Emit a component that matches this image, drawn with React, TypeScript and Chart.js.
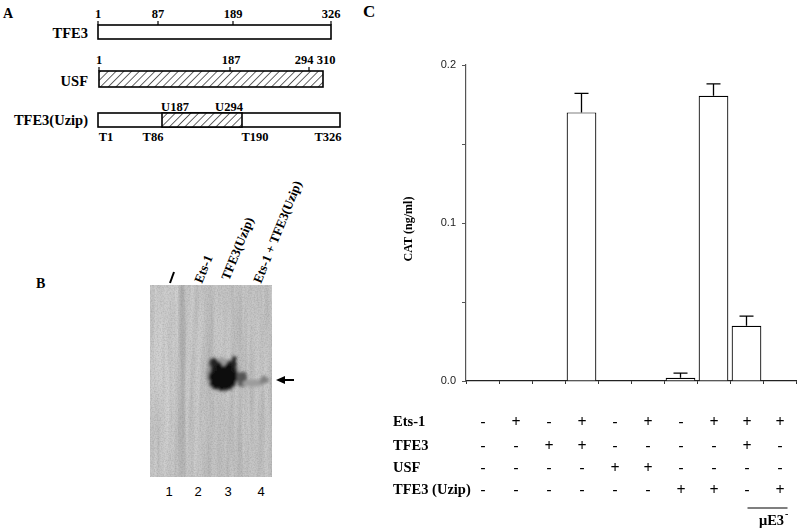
import React, { useEffect, useRef } from "react";
import { Chart, registerables } from "chart.js";
Chart.register(...registerables);

// ---- Panel C data ----
const conditions = ["1", "2", "3", "4", "5", "6", "7", "8", "9", "10"];
const catValues = [0, 0, 0, 0.17, 0, 0, 0.002, 0.1805, 0.035, 0];
const catErrors = [0, 0, 0, 0.012, 0, 0, 0.003, 0.0075, 0.006, 0];
const yTickLabels = ["0.0", "0.1", "0.2"];
const rowLabels = ["Ets-1", "TFE3", "USF", "TFE3 (Uzip)"];
const ets1Signs = ["-", "+", "-", "+", "-", "+", "-", "+", "+", "+"];
const tfe3Signs = ["-", "-", "+", "+", "-", "-", "-", "-", "+", "-"];
const usfSigns = ["-", "-", "-", "-", "+", "+", "-", "-", "-", "-"];
const uzipSigns = ["-", "-", "-", "-", "-", "-", "+", "+", "-", "+"];
const yTitle = "CAT (ng/ml)";

const SERIF = '"Liberation Serif", "Times New Roman", serif';
const SANS = '"Liberation Sans", Arial, sans-serif';

const extrasPlugin = {
  id: "extras",
  afterDatasetsDraw(chart: any) {
    const ctx = chart.ctx;
    const meta = chart.getDatasetMeta(0);
    const y = chart.scales.y;
    ctx.save();
    ctx.strokeStyle = "#000";
    ctx.lineWidth = 1.3;
    catErrors.forEach((e, i) => {
      if (!e) return;
      const bar = meta.data[i];
      const x = bar.x;
      const yv = y.getPixelForValue(catValues[i]);
      const ye = y.getPixelForValue(catValues[i] + e);
      ctx.beginPath();
      ctx.moveTo(x, yv);
      ctx.lineTo(x, ye);
      ctx.moveTo(x - 7, ye);
      ctx.lineTo(x + 7, ye);
      ctx.stroke();
    });
    ctx.restore();
  },
  afterDraw(chart: any) {
    const ctx = chart.ctx;
    const area = chart.chartArea;
    const xs = chart.scales.x;
    ctx.save();
    ctx.fillStyle = "#000";
    ctx.font = `bold 12px ${SERIF}`;
    ctx.textAlign = "center";
    ctx.textBaseline = "middle";
    ctx.translate(area.left - 57, (area.top + area.bottom) / 2 + 6);
    ctx.rotate(-Math.PI / 2);
    ctx.fillText(yTitle, 0, 0);
    ctx.restore();

    ctx.save();
    ctx.fillStyle = "#000";
    const rows = [ets1Signs, tfe3Signs, usfSigns, uzipSigns];
    const rowOffsets = [41, 65, 87, 109];
    ctx.textBaseline = "middle";
    rows.forEach((signs, r) => {
      const yy = area.bottom + rowOffsets[r];
      ctx.font = `bold 14.5px ${SERIF}`;
      ctx.textAlign = "left";
      ctx.fillText(rowLabels[r], area.left - 73, yy);
      signs.forEach((s, i) => {
        ctx.textAlign = "center";
        ctx.font = s === "+" ? `bold 16px ${SERIF}` : `bold 15px ${SERIF}`;
        ctx.fillText(s, xs.getPixelForValue(i) + 0.5, yy + (s === "+" ? 1 : 0));
      });
    });
    const x1 = xs.getPixelForValue(8) + 1;
    const x2 = xs.getPixelForValue(9) + 8;
    ctx.strokeStyle = "#000";
    ctx.lineWidth = 1.2;
    ctx.beginPath();
    ctx.moveTo(x1, area.bottom + 127);
    ctx.lineTo(x2, area.bottom + 127);
    ctx.stroke();
    ctx.font = `bold 14.5px ${SERIF}`;
    const t = "\u03BCE3";
    const w = ctx.measureText(t).width;
    const cx = (x1 + x2) / 2 + 4;
    ctx.textAlign = "left";
    ctx.textBaseline = "alphabetic";
    ctx.fillText(t, cx - w / 2, area.bottom + 144);
    ctx.font = `bold 10px ${SERIF}`;
    ctx.fillText("-", cx + w / 2 + 1, area.bottom + 136);
    ctx.restore();
  },
};

function ChartPanel() {
  const ref = useRef<HTMLCanvasElement | null>(null);
  useEffect(() => {
    if (!ref.current) return;
    const chart = new Chart(ref.current, {
      type: "bar",
      data: {
        labels: conditions,
        datasets: [
          {
            data: catValues,
            backgroundColor: "#ffffff",
            borderColor: "#000000",
            borderWidth: 1.2,
            borderSkipped: "bottom",
            barPercentage: 0.9,
            categoryPercentage: 1.0,
          },
        ],
      },
      options: {
        responsive: false,
        animation: false,
        devicePixelRatio: 1,
        layout: { padding: { top: 65, right: 4, left: 0, bottom: 0 } },
        plugins: { legend: { display: false }, tooltip: { enabled: false } },
        scales: {
          x: {
            afterFit: (s: any) => {
              s.height = 149;
            },
            grid: {
              offset: true,
              drawOnChartArea: false,
              drawTicks: true,
              tickLength: 3,
              color: "#333",
            },
            border: { color: "#222", width: 1.2 },
            ticks: { display: false },
          },
          y: {
            min: 0,
            max: 0.2,
            afterFit: (s: any) => {
              s.width = 106;
            },
            grid: {
              drawOnChartArea: false,
              drawTicks: true,
              tickLength: 4,
              color: "#555",
            },
            border: { color: "#555", width: 1.2 },
            ticks: {
              stepSize: 0.05,
              padding: 6,
              color: "#222",
              font: { family: SANS, size: 11 },
              callback: (v: any) => {
                const k = Math.round(Number(v) * 10);
                if (Math.abs(Number(v) * 10 - k) < 1e-6) return yTickLabels[k];
                return "";
              },
            },
          },
        },
      },
      plugins: [extrasPlugin],
    } as any);
    return () => chart.destroy();
  }, []);
  return (
    <canvas
      ref={ref}
      width={440}
      height={530}
      style={{ position: "absolute", left: 360, top: 0, width: 440, height: 530 }}
    />
  );
}

// ---- Panels A & B (diagram and gel) ----
const serifBold = { fontFamily: SERIF, fontWeight: 700 } as const;

function lbl(x: number, y: number, s: string, size = 12, anchor = "middle") {
  return (
    <text x={x} y={y} fontSize={size} textAnchor={anchor as any} style={serifBold}>
      {s}
    </text>
  );
}

function PanelA() {
  const tick = (x: number, y1: number, y2: number) => (
    <line x1={x} y1={y1} x2={x} y2={y2} stroke="#000" strokeWidth={1.2} />
  );
  return (
    <g>
      {lbl(3, 18, "A", 14, "start")}
      {lbl(88, 38, "TFE3", 14.5, "end")}
      <rect x={98} y={25} width={233} height={14} fill="#fff" stroke="#000" strokeWidth={1.6} />
      {tick(98, 21, 25)}
      {tick(158, 21, 25)}
      {tick(233, 21, 25)}
      {tick(331, 21, 25)}
      {lbl(98, 18, "1", 12.5)}
      {lbl(158, 18, "87", 12.5)}
      {lbl(233, 18, "189", 12.5)}
      {lbl(331, 18, "326", 12.5)}
      {lbl(88, 86, "USF", 14.5, "end")}
      <rect x={99} y={71} width={224} height={16} fill="url(#hatch)" stroke="#000" strokeWidth={1.6} />
      {tick(99, 67, 71)}
      {tick(230, 67, 71)}
      {tick(309, 67, 71)}
      {lbl(99, 64, "1", 12.5)}
      {lbl(231, 64, "187", 12.5)}
      {lbl(304, 64, "294", 12.5)}
      {lbl(326, 64, "310", 12.5)}
      {lbl(88, 125, "TFE3(Uzip)", 14.5, "end")}
      <rect x={98} y={113} width={242} height={14} fill="#fff" stroke="#000" strokeWidth={1.6} />
      <rect x={162} y={113} width={80} height={14} fill="url(#hatch)" stroke="#000" strokeWidth={1.6} />
      {lbl(175, 111, "U187", 12.5)}
      {lbl(229, 111, "U294", 12.5)}
      {lbl(106, 141, "T1", 12.5)}
      {lbl(153, 141, "T86", 12.5)}
      {lbl(255, 141, "T190", 12.5)}
      {lbl(328, 141, "T326", 12.5)}
    </g>
  );
}

function PanelB() {
  const rot = (x: number, y: number, s: string) => (
    <text
      x={0}
      y={0}
      fontSize={13}
      transform={`translate(${x},${y}) rotate(-68)`}
      style={serifBold}
    >
      {s}
    </text>
  );
  return (
    <g>
      {lbl(36, 288, "B", 14, "start")}
      <line x1={170} y1={283} x2={174} y2={272} stroke="#000" strokeWidth={2} />
      {rot(202, 284, "Ets-1")}
      {rot(229, 281, "TFE3(Uzip)")}
      {rot(261, 284, "Ets-1 + TFE3(Uzip)")}
      <clipPath id="gelclip">
        <rect x={150} y={285} width={122} height={192} />
      </clipPath>
      <g clipPath="url(#gelclip)">
        <rect x={150} y={285} width={122} height={192} fill="#cacaca" />
        <rect x={152} y={285} width={27} height={192} fill="#d2d2d2" filter="url(#b3)" />
        <rect x={179} y={285} width={6} height={192} fill="#b8b8b8" filter="url(#b2)" />
        <rect x={205} y={285} width={5} height={192} fill="#c0c0c0" filter="url(#b2)" />
        <rect x={237} y={285} width={5} height={192} fill="#c2c2c2" filter="url(#b2)" />
        <rect x={187} y={285} width={17} height={192} fill="#cdcdcd" filter="url(#b3)" />
        <rect x={150} y={285} width={122} height={192} filter="url(#streaks)" />
        <rect x={150} y={285} width={122} height={192} filter="url(#noise)" />
        <g filter="url(#rough)">
          <ellipse cx={223} cy={375} rx={17} ry={17} fill="#8a8a8a" opacity={0.7} />
          <ellipse cx={223} cy={378} rx={14} ry={13} fill="#0d0d0d" />
          <ellipse cx={216} cy={372} rx={6} ry={12} fill="#111" />
          <ellipse cx={231} cy={372} rx={6} ry={12} fill="#111" />
          <ellipse cx={213} cy={364} rx={3.5} ry={7} fill="#222" />
          <ellipse cx={234} cy={363} rx={3} ry={7} fill="#222" />
          <ellipse cx={242} cy={379} rx={5} ry={8} fill="#555" />
          <ellipse cx={254} cy={383} rx={12} ry={3.5} fill="#9c9c9c" />
          <ellipse cx={264} cy={380} rx={4} ry={4} fill="#808080" />
        </g>
      </g>
      <line x1={282} y1={380} x2={294} y2={380} stroke="#000" strokeWidth={2} />
      <polygon points="276,380 285,376 285,384" fill="#000" />
      {["1", "2", "3", "4"].map((s, i) => (
        <text
          key={s}
          x={[169, 198, 228, 261][i]}
          y={496}
          fontSize={13}
          textAnchor="middle"
          style={{ fontFamily: SANS }}
        >
          {s}
        </text>
      ))}
    </g>
  );
}

export default function App() {
  return (
    <div
      style={{
        position: "fixed",
        left: 0,
        top: 0,
        width: 800,
        height: 530,
        background: "#fff",
        overflow: "hidden",
      }}
    >
      <svg width={800} height={530} style={{ position: "absolute", left: 0, top: 0 }}>
        <defs>
          <pattern
            id="hatch"
            patternUnits="userSpaceOnUse"
            width={5.5}
            height={5.5}
            patternTransform="rotate(45)"
          >
            <rect width={5.5} height={5.5} fill="#fff" />
            <line x1={0} y1={0} x2={0} y2={5.5} stroke="#000" strokeWidth={1.2} />
          </pattern>
          <filter id="b2"><feGaussianBlur stdDeviation={2} /></filter>
          <filter id="b3"><feGaussianBlur stdDeviation={3} /></filter>
          <filter id="noise" x="0" y="0" width="100%" height="100%">
            <feTurbulence type="fractalNoise" baseFrequency="0.7" numOctaves={2} seed={3} />
            <feColorMatrix
              type="matrix"
              values="0 0 0 0 0  0 0 0 0 0  0 0 0 0 0  0.22 0 0 0 -0.08"
            />
          </filter>
          <filter id="streaks" x="0" y="0" width="100%" height="100%">
            <feTurbulence type="fractalNoise" baseFrequency="0.2 0.01" numOctaves={2} seed={7} />
            <feColorMatrix
              type="matrix"
              values="0 0 0 0 0  0 0 0 0 0  0 0 0 0 0  0.18 0 0 0 -0.06"
            />
          </filter>
          <filter id="rough" x="-20%" y="-20%" width="140%" height="140%">
            <feTurbulence type="fractalNoise" baseFrequency="0.3" numOctaves={2} seed={11} result="t" />
            <feDisplacementMap in="SourceGraphic" in2="t" scale={6} xChannelSelector="R" yChannelSelector="G" result="d" />
            <feGaussianBlur in="d" stdDeviation={1.8} />
          </filter>
        </defs>
        <PanelA />
        <PanelB />
        <text x={363} y={17} fontSize={17} style={serifBold}>
          C
        </text>
      </svg>
      <ChartPanel />
    </div>
  );
}
